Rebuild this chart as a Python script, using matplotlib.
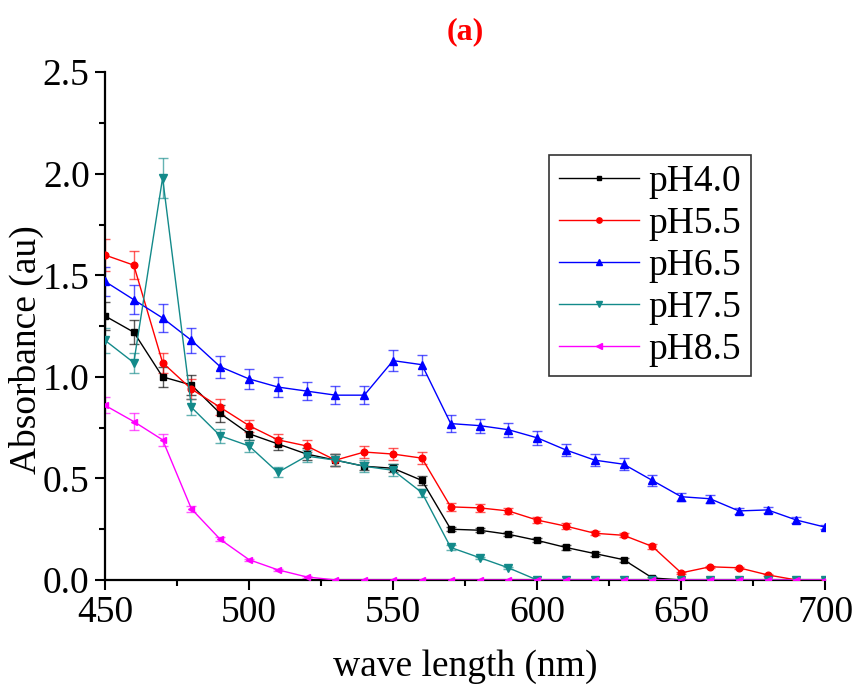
import matplotlib
matplotlib.use("Agg")
import matplotlib.pyplot as plt
from matplotlib.ticker import MultipleLocator

plt.rcParams['font.family'] = ['Liberation Serif', 'DejaVu Serif']

wavelength = list(range(450, 701, 10))

ph40 = [1.30, 1.22, 1.00, 0.96, 0.82, 0.72, 0.67, 0.62, 0.59, 0.56, 0.55, 0.49, 0.25,
        0.245, 0.225, 0.195, 0.16, 0.13, 0.10, 0.01, 0, 0, 0, 0, 0, 0]
ph40_err = [0.07, 0.06, 0.05, 0.05, 0.04, 0.03, 0.03, 0.03, 0.03, 0.02, 0.02, 0.02, 0.01,
            0.01, 0.01, 0.01, 0.01, 0.01, 0.01, 0.005, 0, 0, 0, 0, 0, 0]

ph55 = [1.60, 1.55, 1.07, 0.94, 0.85, 0.76, 0.69, 0.66, 0.59, 0.63, 0.62, 0.60, 0.36,
        0.355, 0.34, 0.295, 0.265, 0.23, 0.22, 0.165, 0.035, 0.065, 0.06, 0.025, 0, 0]
ph55_err = [0.08, 0.07, 0.05, 0.05, 0.04, 0.03, 0.03, 0.03, 0.03, 0.03, 0.03, 0.03, 0.02,
            0.02, 0.015, 0.015, 0.015, 0.01, 0.01, 0.01, 0.005, 0.005, 0.005, 0.005, 0, 0]

ph65 = [1.47, 1.38, 1.29, 1.18, 1.05, 0.99, 0.95, 0.93, 0.91, 0.91, 1.08, 1.06, 0.77,
        0.76, 0.74, 0.70, 0.64, 0.59, 0.57, 0.49, 0.41, 0.40, 0.34, 0.345, 0.295, 0.26]
ph65_err = [0.07, 0.07, 0.07, 0.06, 0.055, 0.05, 0.05, 0.045, 0.045, 0.045, 0.05, 0.05, 0.04,
            0.035, 0.035, 0.035, 0.03, 0.03, 0.03, 0.025, 0.02, 0.02, 0.015, 0.015, 0.015, 0.01]

ph75 = [1.18, 1.07, 1.98, 0.85, 0.71, 0.66, 0.53, 0.61, 0.59, 0.56, 0.54, 0.43, 0.16,
        0.11, 0.06, 0, 0, 0, 0, 0, 0, 0, 0, 0, 0, 0]
ph75_err = [0.06, 0.05, 0.10, 0.04, 0.035, 0.03, 0.025, 0.03, 0.03, 0.03, 0.03, 0.02, 0.01,
            0.005, 0.005, 0, 0, 0, 0, 0, 0, 0, 0, 0, 0, 0]

ph85 = [0.86, 0.78, 0.69, 0.35, 0.20, 0.10, 0.05, 0.015, 0, 0, 0, 0, 0,
        0, 0, 0, 0, 0, 0, 0, 0, 0, 0, 0, 0, 0]
ph85_err = [0.04, 0.04, 0.03, 0.015, 0.01, 0.005, 0.005, 0.005, 0, 0, 0, 0, 0,
            0, 0, 0, 0, 0, 0, 0, 0, 0, 0, 0, 0, 0]

series = [
    ("pH4.0", ph40, ph40_err, "black", "s", 4),
    ("pH5.5", ph55, ph55_err, "red", "o", 4.8),
    ("pH6.5", ph65, ph65_err, "blue", "^", 5.8),
    ("pH7.5", ph75, ph75_err, "#138a8a", "v", 5.8),
    ("pH8.5", ph85, ph85_err, "magenta", "<", 5),
]

fig = plt.figure(figsize=(8.57, 6.88), dpi=100)
ax = fig.add_axes([0.1225, 0.157, 0.8405, 0.738])

for label, vals, err, color, marker, ms in series:
    ax.errorbar(wavelength, vals, yerr=err, color=color, ecolor=color,
                elinewidth=1, capsize=3.3, capthick=1, alpha=0.65,
                fmt='none', zorder=2)
    ax.plot(wavelength, vals, color=color, marker=marker, markersize=ms,
            linewidth=1, label=label, zorder=3)

ax.set_xlim(450, 700)
ax.set_ylim(0, 2.5)
ax.xaxis.set_major_locator(MultipleLocator(50))
ax.xaxis.set_minor_locator(MultipleLocator(25))
ax.yaxis.set_major_locator(MultipleLocator(0.5))
ax.yaxis.set_minor_locator(MultipleLocator(0.25))
ax.yaxis.set_major_formatter(plt.FormatStrFormatter('%.1f'))

for side in ['top', 'right']:
    ax.spines[side].set_visible(False)
for side in ['left', 'bottom']:
    ax.spines[side].set_linewidth(1.6)

ax.tick_params(axis='both', which='major', direction='out', length=7, width=1.5,
               labelsize=27, pad=4)
ax.tick_params(axis='both', which='minor', direction='out', length=4, width=1.5)

ax.set_xlabel("wave length (nm)", fontsize=27, labelpad=14)
ax.set_ylabel("Absorbance (au)", fontsize=27)
ax.yaxis.set_label_coords(-0.085, 0.453)
ax.set_title("(a)", color="red", fontweight="bold", fontsize=23, pad=24)

leg = ax.legend(loc='upper left', bbox_to_anchor=(0.617, 0.837), borderaxespad=0,
                fontsize=27, frameon=True, fancybox=False, edgecolor='black',
                handlelength=2.15, borderpad=0.25, labelspacing=0.2,
                handletextpad=0.25, markerscale=0.8)
leg.get_frame().set_linewidth(1.2)

fig.savefig("out.png", dpi=100)
